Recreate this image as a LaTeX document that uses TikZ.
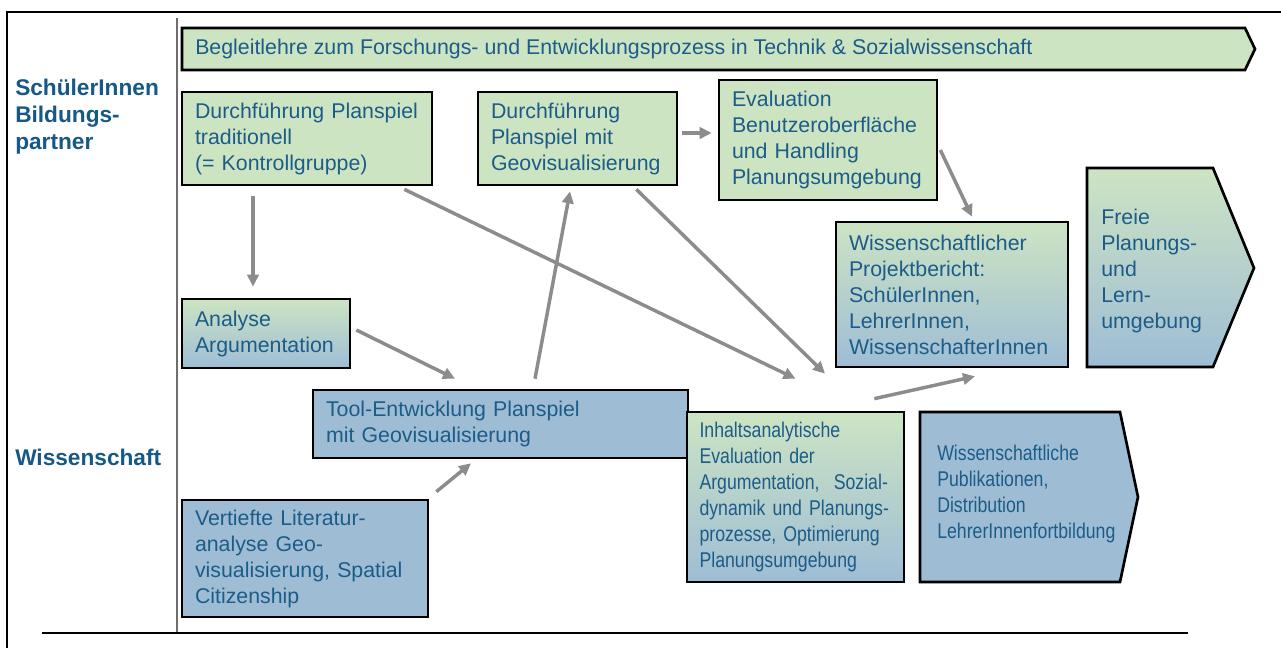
\documentclass[tikz,border=0pt]{standalone}
\usepackage{fontspec}
\setmainfont{Liberation Sans}
\newfontfamily\narrowfont[FakeStretch=0.83]{Liberation Sans}
\usetikzlibrary{calc,arrows.meta}
\definecolor{tx}{RGB}{28,92,136}
\definecolor{lbl}{RGB}{22,88,134}
\definecolor{gr}{RGB}{205,228,195}
\definecolor{bl}{RGB}{158,189,213}
\definecolor{arr}{RGB}{140,140,140}
\definecolor{divgray}{RGB}{110,110,110}
\begin{document}
\begin{tikzpicture}[x=0.75pt,y=-0.75pt,
  box/.style={draw=black,line width=2pt,rectangle,inner xsep=9.75pt,inner ysep=0pt,align=left,text=tx,font=\fontsize{16}{19.5}\selectfont},
  grn/.style={fill=gr},
  blu/.style={fill=bl},
  grad/.style={top color=gr,bottom color=bl},
  shp/.style={draw=black,line width=2pt,line join=miter},
  lab/.style={text=lbl,font=\fontsize{17}{20.25}\selectfont\bfseries,align=left,anchor=west,inner sep=0pt},
  ptxt/.style={text=tx,font=\fontsize{16}{19.5}\selectfont,align=left,anchor=west,inner sep=0pt},
  con/.style={draw=arr,line width=2.6pt,-{Triangle[length=9pt,width=8.5pt]}}]
\useasboundingbox (0,0) rectangle (1281,648);
\clip (0,0) rectangle (1281,648);
\fill[white] (0,0) rectangle (1281,648);
% frame and rules
\draw[line width=2.2pt] (7,660) -- (7,12) -- (1300,12);
\draw[divgray,line width=1.2pt] (177,18) -- (177,633);
\draw[black,line width=1pt] (42,633) -- (1188,633);
% left labels
\node[lab] (schueler) at (15,117) {SchülerInnen\\Bildungs-\\partner};
\node[lab] (wiss) at (15,457) {Wissenschaft};
% top arrow band
\draw[shp,grn] (182,28) -- (1245,28) -- (1255,49) -- (1245,70) -- (182,70) -- cycle;
\node[ptxt] (begleit) at (195,49) {Begleitlehre zum Forschungs- und Entwicklungsprozess in Technik \& Sozialwissenschaft};
% boxes
\node[box,grn,minimum width=187.5pt,minimum height=69.75pt,text width=168pt] (trad) at (307,138.5) {Durchführung Planspiel\\traditionell\\(= Kontrollgruppe)};
\node[box,grn,minimum width=149.25pt,minimum height=69.75pt,text width=129.75pt] (geo) at (577.5,138.5) {Durchführung\\Planspiel mit\\Geovisualisierung};
\node[box,grn,minimum width=163.5pt,minimum height=90pt,text width=144pt] (eval) at (828,140) {Evaluation\\Benutzeroberfläche\\und Handling\\Planungsumgebung};
\node[box,grad,minimum width=174pt,minimum height=108.75pt,text width=154.5pt] (proj) at (952,294.5) {Wissenschaftlicher\\Projektbericht:\\SchülerInnen,\\LehrerInnen,\\WissenschafterInnen};
\node[box,grad,minimum width=126pt,minimum height=51.75pt,text width=106.5pt] (ana) at (266,333.5) {Analyse\\Argumentation};
\node[box,blu,minimum width=281.25pt,minimum height=51pt,text width=261.75pt] (tool) at (500.5,424) {Tool-Entwicklung Planspiel\\mit Geovisualisierung};
\node[box,blu,minimum width=184.5pt,minimum height=87.75pt,text width=165pt] (vert) at (305,558.5) {Vertiefte Literatur-\\analyse Geo-\\visualisierung, Spatial\\Citizenship};
\node[box,grad,minimum width=162.75pt,minimum height=127.5pt,text width=144pt,inner xsep=9pt,font=\fontsize{16}{19.5}\narrowfont] (inh) at (795.5,497) {Inhaltsanalytische\\Evaluation der\\Argumentation,~ Sozial-\\dynamik und Planungs-\\prozesse, Optimierung\\Planungsumgebung};
% pentagon shapes
\draw[shp,grad] (1087,168) -- (1213,168) -- (1254,268) -- (1213,367) -- (1087,367) -- cycle;
\node[ptxt] (freie) at (1101,271) {Freie\\Planungs-\\und\\Lern-\\umgebung};
\draw[shp,blu] (920,412) -- (1120,412) -- (1138,497) -- (1120,582) -- (920,582) -- cycle;
\node[ptxt,font=\fontsize{16}{19.5}\narrowfont] (publ) at (937,494) {Wissenschaftliche\\Publikationen,\\Distribution\\LehrerInnenfortbildung};
% connectors
\draw[con] ($(trad.south)+(-54,10)$) -- ($(ana.north)+(-13,-11)$);
\draw[con] ($(trad.south east)+(-29,3)$) -- ($(inh.north)+(0,-32)$);
\draw[con] ($(geo.south east)+(-42,3)$) -- ($(inh.north)+(29.5,-37)$);
\draw[con] ($(ana.east)+(5,-3.5)$) -- ($(tool.north)+(-45.5,-10)$);
\draw[con] ($(vert.north east)+(7,-7)$) -- ($(tool.south)+(-29.5,4)$);
\draw[con] ($(tool.north)+(34.5,-10)$) -- ($(geo.south)+(-7.5,5)$);
\draw[con] ($(geo.east)+(4,-5.5)$) -- ($(eval.west)+(-6,-7)$);
\draw[con] ($(eval.east)+(2,10)$) -- ($(proj.north)+(20,-4)$);
\draw[con] ($(inh.north east)+(-31,-12)$) -- ($(proj.south)+(23,8)$);
\end{tikzpicture}
\end{document}
